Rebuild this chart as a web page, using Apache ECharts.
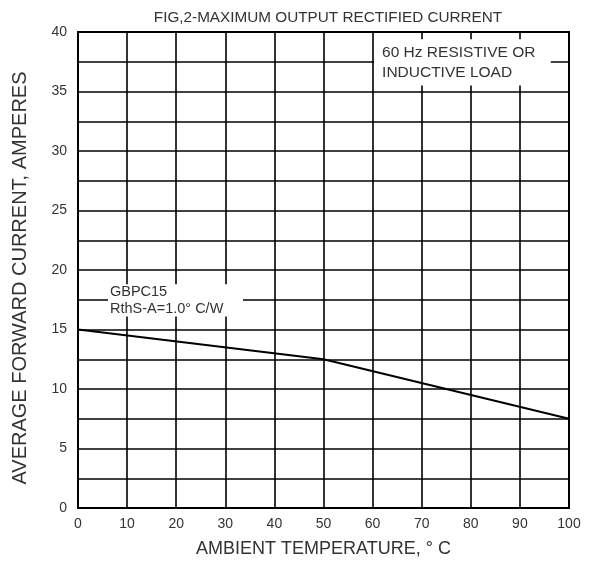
<!DOCTYPE html>
<html><head><meta charset="utf-8">
<script src="https://cdn.jsdelivr.net/npm/echarts@6/dist/echarts.min.js"></script>
<style>html,body{margin:0;padding:0;background:#fff}#c{width:605px;height:564px}</style>
</head><body><div id="c"></div>
<script>
const temps = [0, 50, 100];
const currents = [15, 12.5, 7.5];
const xTicks = [0, 100, 10];
const yTicks = [0, 40, 5];
const titleText = 'FIG,2-MAXIMUM OUTPUT RECTIFIED CURRENT';
const xName = 'AMBIENT TEMPERATURE, \u00b0 C';
const yName = 'AVERAGE FORWARD CURRENT, AMPERES';
const note1 = '60 Hz RESISTIVE OR\nINDUCTIVE LOAD';
const note1Box = [[60.3, 39.4], [96.3, 35.5]];
const note2 = 'GBPC15\nRthS-A=1.0\u00b0 C/W';
const note2Box = [[6.1, 18.8], [33.6, 16.1]];

const font = 'Liberation Sans, Arial, sans-serif';
const chart = echarts.init(document.getElementById('c'));
const gridLine = {show: true, lineStyle: {color: '#000', width: 1.6}};
chart.setOption({
  animation: false,
  title: {text: titleText, left: 323, textAlign: 'center', top: 5,
    textStyle: {fontFamily: font, fontSize: 15.3, fontWeight: 'normal', color: '#333'}},
  grid: {left: 78, right: 36, top: 32, bottom: 56, show: true, borderColor: '#000', borderWidth: 2},
  xAxis: {type: 'value', min: xTicks[0], max: xTicks[1], interval: xTicks[2],
    name: xName, nameLocation: 'middle', nameGap: 32,
    nameTextStyle: {fontFamily: font, fontSize: 18, color: '#333'},
    axisLine: {show: false}, axisTick: {show: false},
    axisLabel: {fontFamily: font, fontSize: 14, color: '#333', margin: 9},
    splitLine: gridLine},
  yAxis: {type: 'value', min: yTicks[0], max: yTicks[1], interval: yTicks[2],
    name: yName, nameLocation: 'middle', nameGap: 48,
    nameTextStyle: {fontFamily: font, fontSize: 20, color: '#333', padding: [0, 16, 0, 0]},
    axisLine: {show: false}, axisTick: {show: false},
    axisLabel: {fontFamily: font, fontSize: 14, color: '#333', margin: 11, padding: [0, 0, 6, 0]},
    splitLine: gridLine,
    minorTick: {show: false, splitNumber: 2},
    minorSplitLine: gridLine},
  series: [
    {type: 'line', data: [], z: 1, silent: true,
      markArea: {silent: true, itemStyle: {color: '#fff', opacity: 1},
        data: [
          [{coord: note1Box[0], label: {show: true, formatter: note1, position: 'insideLeft', distance: 8,
             fontFamily: font, fontSize: 15.5, color: '#333', lineHeight: 20}},
           {coord: note1Box[1]}],
          [{coord: note2Box[0], label: {show: true, formatter: note2, position: 'insideLeft', distance: 2,
             fontFamily: font, fontSize: 14.5, color: '#333', lineHeight: 17}},
           {coord: note2Box[1]}]
        ]}},
    {type: 'line', z: 3, symbol: 'none', data: temps.map((t, i) => [t, currents[i]]),
      lineStyle: {color: '#000', width: 2}}
  ]
});
</script></body></html>
